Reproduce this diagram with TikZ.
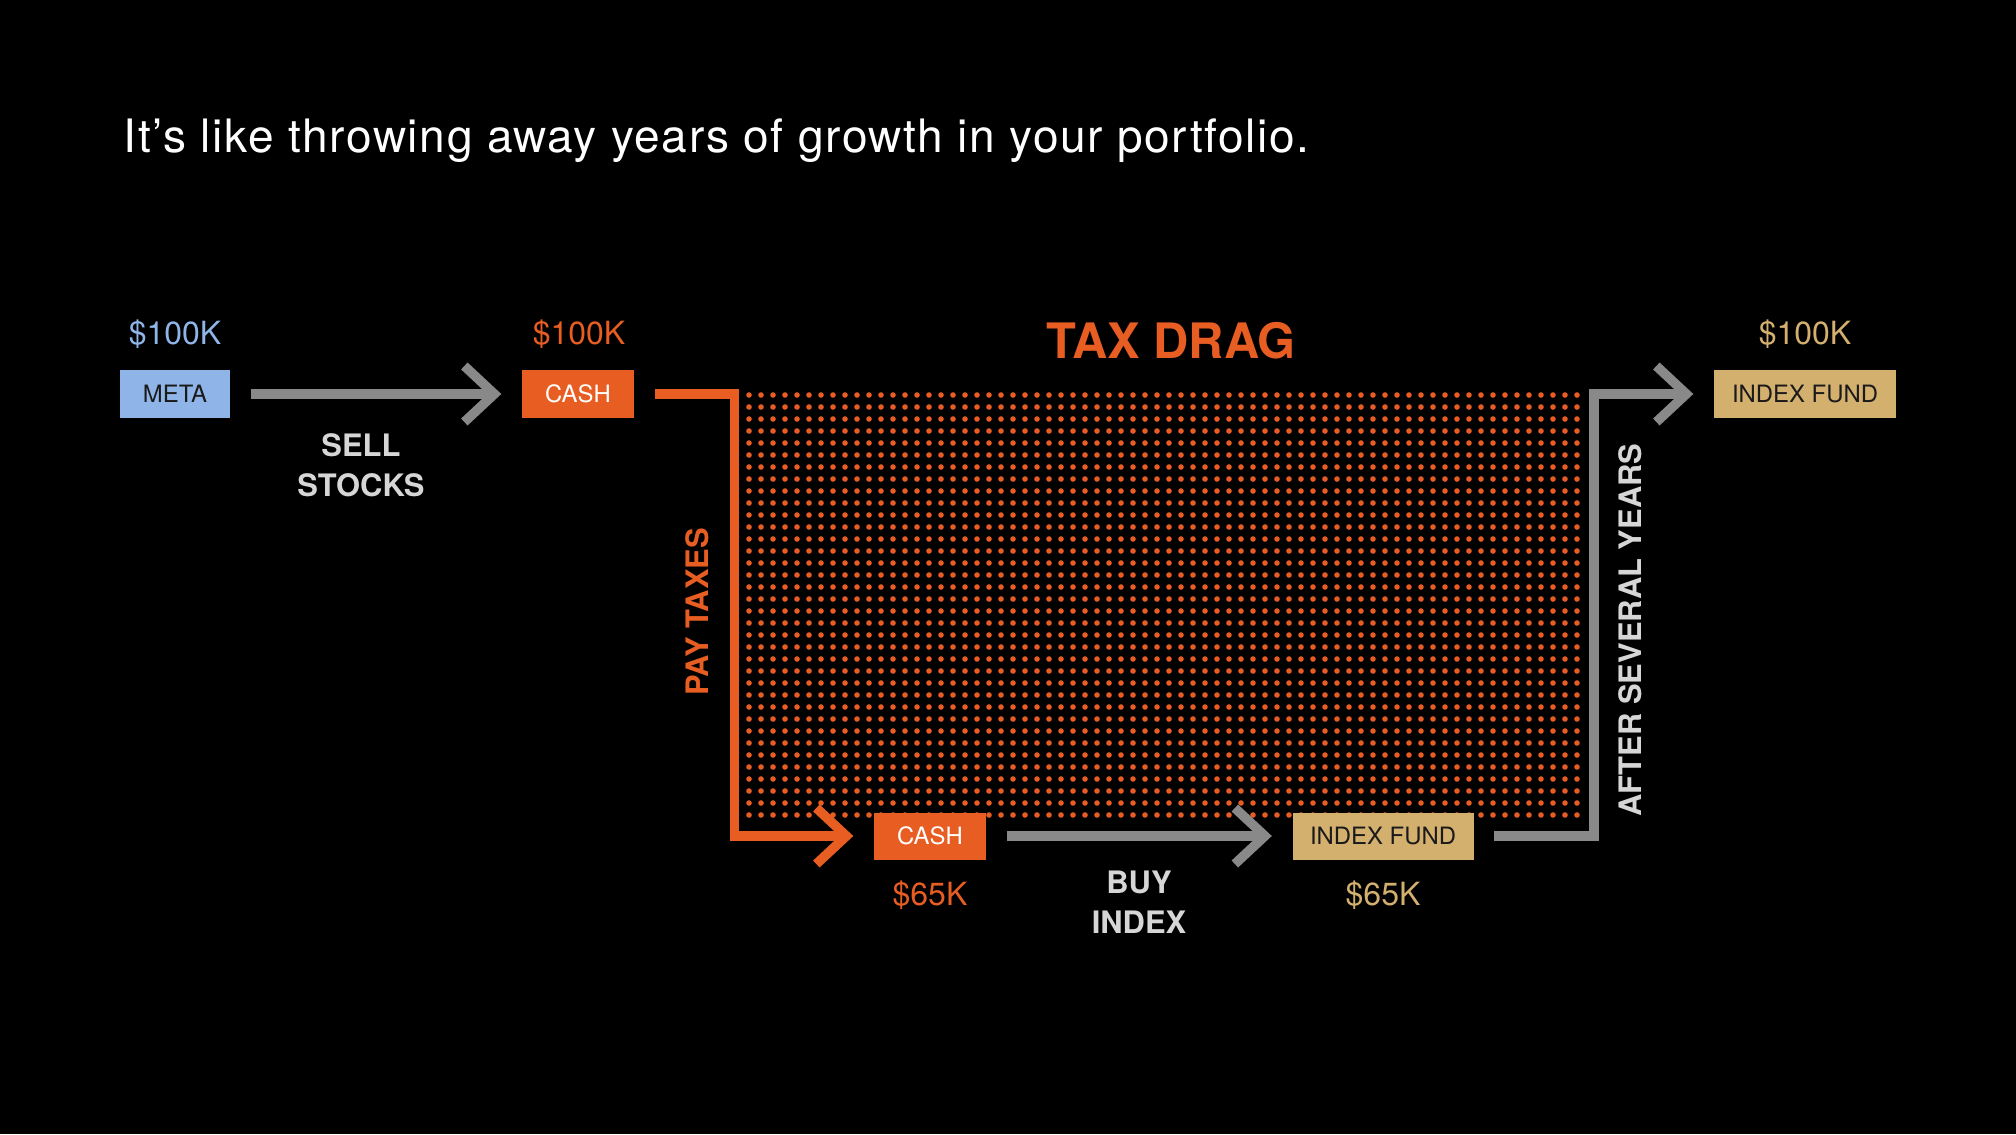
\documentclass[tikz,border=0pt]{standalone}
\usepackage{fontspec}
\setmainfont{TeX Gyre Heros}
\usetikzlibrary{arrows.meta}

\definecolor{taxorange}{HTML}{E85D22}
\definecolor{metablue}{HTML}{8FB5E8}
\definecolor{fundgold}{HTML}{D4B06F}
\definecolor{flowgray}{HTML}{898989}
\definecolor{labelgray}{HTML}{D6D6D6}
\definecolor{boxtext}{HTML}{1A1A1A}

\begin{document}
\begin{tikzpicture}[
		box/.style={minimum height=0.48cm,inner sep=0pt,font=\fontsize{6.8}{8}\selectfont},
		amount/.style={inner sep=0pt,font=\fontsize{9.1}{11}\selectfont},
		flowlabel/.style={inner sep=0pt,align=center,font=\bfseries\fontsize{8.8}{11.4}\selectfont},
		flow/.style={line width=0.095cm,-{Straight Barb[length=0.30cm,width=0.56cm]},shorten <=0.2cm,shorten >=0.2cm}
	]
	\fill[black] (0,0) rectangle (20.16,11.34);
	
	\node[anchor=base west,inner sep=0pt,white,font=\fontsize{13.1}{15}\selectfont\addfontfeature{LetterSpace=3.5}] (title) at (1.23,9.81) {It’s like throwing away years of growth in your portfolio.};
	
	% tax drag area
	\foreach \i in {0,...,69}
		\foreach \j in {0,...,35}
			\fill[taxorange] (7.49+0.12*\i,3.19+0.12*\j) circle (0.028);
	
	\begin{scope}[every node/.style={box}]
		\node[fill=metablue,minimum width=1.10cm,text=boxtext] (meta) at (1.75,7.40) {META};
		\node[fill=taxorange,minimum width=1.12cm,text=white] (cash) at (5.78,7.40) {CASH};
		\node[fill=taxorange,minimum width=1.12cm,minimum height=0.47cm,text=white] (cashlow) at (9.30,2.98) {CASH};
		\node[fill=fundgold,minimum width=1.81cm,minimum height=0.47cm,text=boxtext] (fundlow) at (13.83,2.98) {INDEX FUND};
		\node[fill=fundgold,minimum width=1.82cm,text=boxtext] (fund) at (18.05,7.40) {INDEX FUND};
	\end{scope}
	
	\begin{scope}[every node/.style={amount}]
		\node[metablue] (metaval) at (1.75,8.00) {\$100K};
		\node[taxorange] (cashval) at (5.79,8.00) {\$100K};
		\node[fundgold] (fundval) at (18.05,8.00) {\$100K};
		\node[taxorange] (cashlowval) at (9.30,2.39) {\$65K};
		\node[fundgold] (fundlowval) at (13.83,2.39) {\$65K};
	\end{scope}
	
	\begin{scope}[every node/.style={flowlabel}]
		\node[labelgray] (sell) at (3.61,6.69) {SELL\\STOCKS};
		\node[labelgray] (buy) at (11.39,2.32) {BUY\\INDEX};
		\node[labelgray,rotate=90] (years) at (16.30,5.04) {AFTER SEVERAL YEARS};
		\node[taxorange,rotate=90] (taxes) at (6.97,5.22) {PAY TAXES};
		\node[taxorange,font=\bfseries\fontsize{13.9}{16}\selectfont] (drag) at (11.71,7.93) {TAX DRAG};
	\end{scope}
	
	\begin{scope}
		\draw[flow,flowgray] (meta) -- (cash);
		\draw[flow,taxorange] (cash.east) -- ++(1.0,0) |- (cashlow.west);
		\draw[flow,flowgray] (cashlow) -- (fundlow);
		\draw[flow,flowgray] (fundlow.east) -- ++(1.20,0) |- (fund.west);
	\end{scope}
\end{tikzpicture}
\end{document}
